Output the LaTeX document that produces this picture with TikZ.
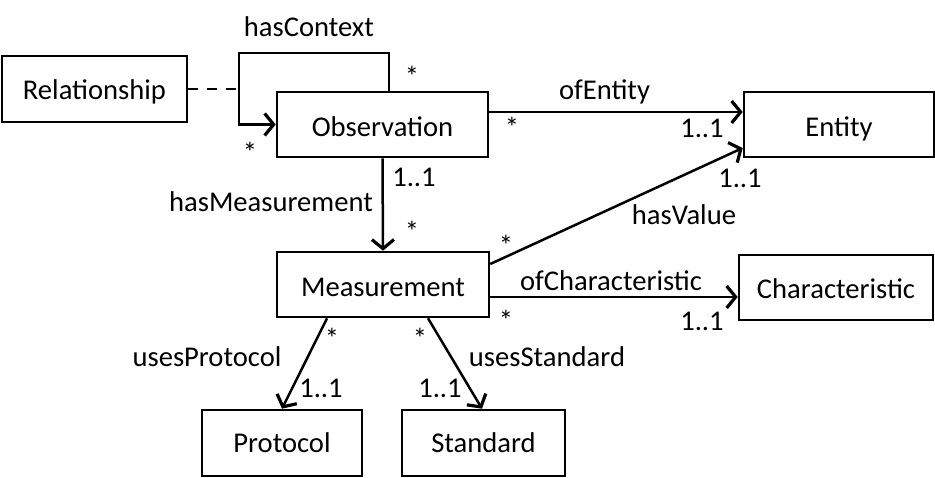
\documentclass[tikz,border=0pt]{standalone}
\usepackage{fontspec}
\setmainfont{Carlito}
\usetikzlibrary{arrows.meta,calc}
\begin{document}
\begin{tikzpicture}[x=1pt,y=-1pt,
  cls/.style={draw,line width=2.6pt,minimum height=65pt,inner sep=0pt,text height=24pt,text depth=0pt,font=\fontsize{28.6}{34}\selectfont},
  lbl/.style={anchor=base,inner sep=0pt,font=\fontsize{28.6}{34}\selectfont},
  conn/.style={line width=2.5pt},
  arr/.style={conn,-{Straight Barb[length=9pt,width=22pt,line width=3.2pt]}}]
\useasboundingbox[fill=white] (0,0) rectangle (935,478);
% classes
\node[cls,minimum width=185pt,minimum height=66pt,text height=22pt] (rel) at (94.5,89) {Relationship};
\node[cls,minimum width=211pt] (obs) at (382.5,124.5) {Observation};
\node[cls,minimum width=190pt] (ent) at (839,124.5) {Entity};
\node[cls,minimum width=212pt] (mea) at (383,284.5) {Measurement};
\node[cls,minimum width=194pt,text height=23pt] (chr) at (836,287.5) {Characteristic};
\node[cls,minimum width=160pt,minimum height=66pt,text height=20pt] (pro) at (282,443) {Protocol};
\node[cls,minimum width=163pt,minimum height=66pt,text height=20pt] (std) at (483.5,443) {Standard};
% hasContext loop
\coordinate (la) at (389,53);
\coordinate (lb) at (239,53);
\draw[arr] (obs.north -| la) -- (la) -- (lb) -- (lb |- obs.west) -- (obs.west);
\draw[conn,dash pattern=on 10pt off 9pt] (rel.east) -- (lb |- rel.east);
% ofEntity
\draw[arr] ([yshift=12.5pt]obs.east) -- ([yshift=12.5pt]obs.east -| ent.west);
% hasMeasurement
\draw[arr] (obs.south) -- (mea.north);
% hasValue
\draw[arr] ([yshift=20.5pt]mea.east) -- ([yshift=-23.5pt]ent.west);
% ofCharacteristic
\draw[arr] ([yshift=-12.5pt]mea.east) -- ([yshift=-12.5pt]mea.east -| chr.west);
% usesProtocol / usesStandard
\draw[arr] ([xshift=-56pt]mea.south) -- (pro.north);
\draw[arr] ([xshift=45pt]mea.south) -- ([xshift=-1.5pt]std.north);
% labels
\node[lbl] (l1) at (309,37) {hasContext};
\node[lbl] (l2) at (412,87) {*};
\node[lbl] (l3) at (250,163) {*};
\node[lbl] (l4) at (414,187) {1..1};
\node[lbl] (l5) at (271,212) {hasMeasurement};
\node[lbl] (l6) at (412,242) {*};
\node[lbl] (l7) at (604.5,100) {ofEntity};
\node[lbl] (l8) at (512,138) {*};
\node[lbl] (l9) at (702,138) {1..1};
\node[lbl] (l10) at (740,188) {1..1};
\node[lbl] (l11) at (684,225) {hasValue};
\node[lbl] (l12) at (506,256) {*};
\node[lbl] (l13) at (611,291) {ofCharacteristic};
\node[lbl] (l14) at (506,331) {*};
\node[lbl] (l15) at (702,331) {1..1};
\node[lbl] (l16) at (332,349) {*};
\node[lbl] (l17) at (207,367) {usesProtocol};
\node[lbl] (l18) at (321,398) {1..1};
\node[lbl] (l19) at (420,349) {*};
\node[lbl] (l20) at (547,367) {usesStandard};
\node[lbl] (l21) at (440,398) {1..1};
\end{tikzpicture}
\end{document}
